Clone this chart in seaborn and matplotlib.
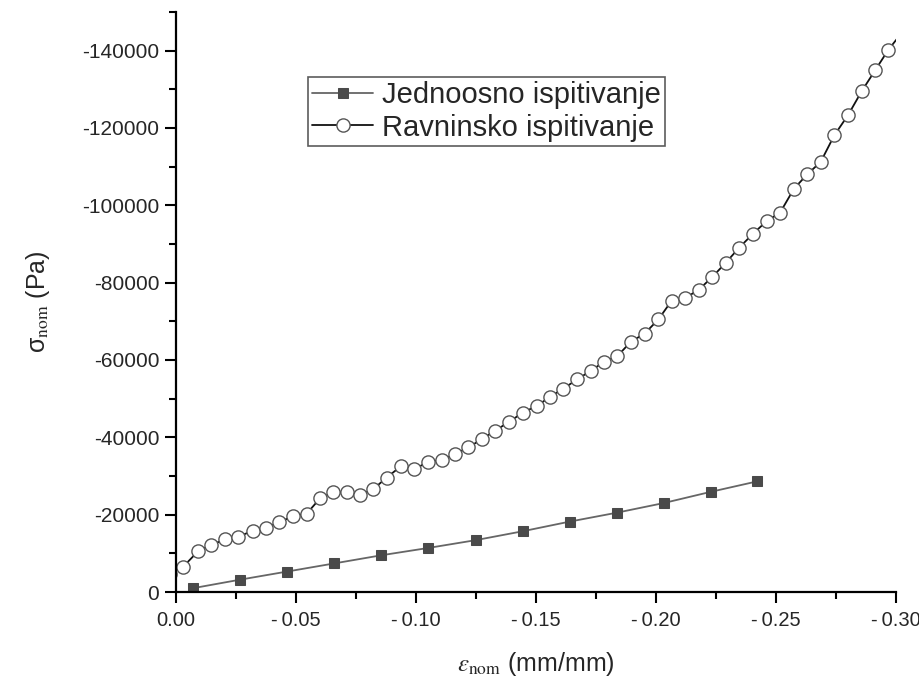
import numpy as np
import pandas as pd
import seaborn as sns
import matplotlib.pyplot as plt
from matplotlib.ticker import MultipleLocator, FuncFormatter

# nominal strain / stress (compression -> negative)
eps_jedno = [-0.0072, -0.0268, -0.0464, -0.0660, -0.0856, -0.1052, -0.1248,
             -0.1444, -0.1640, -0.1836, -0.2032, -0.2228, -0.2421]
sig_jedno = [-1000, -3200, -5300, -7400, -9500, -11400, -13400,
             -15700, -18200, -20500, -23000, -25900, -28600]

eps_ravn = [0.0026, -0.0030, -0.0093, -0.0146, -0.0204, -0.0260, -0.0320, -0.0375,
            -0.0430, -0.0486, -0.0545, -0.0600, -0.0655, -0.0711, -0.0767,
            -0.0822, -0.0878, -0.0938, -0.0993, -0.1049, -0.1107, -0.1163,
            -0.1218, -0.1274, -0.1329, -0.1388, -0.1445, -0.1503, -0.1558,
            -0.1614, -0.1672, -0.1728, -0.1783, -0.1839, -0.1895, -0.1953,
            -0.2010, -0.2065, -0.2121, -0.2179, -0.2235, -0.2290, -0.2346,
            -0.2405, -0.2461, -0.2517, -0.2575, -0.2630, -0.2686, -0.2743,
            -0.2801, -0.2857, -0.2913, -0.2968, -0.3024]
sig_ravn = [-4600, -6540, -10600, -12150, -13600, -14300, -15850, -16600,
            -18000, -19600, -20300, -24200, -25760, -25760, -25060,
            -26600, -29600, -32560, -31700, -33670, -34100, -35650,
            -37400, -39500, -41700, -44000, -46400, -48100, -50450,
            -52600, -55000, -57200, -59500, -61000, -64700, -66850,
            -70500, -75300, -76000, -78200, -81500, -85100, -89000,
            -92700, -95900, -98100, -104300, -108000, -111200, -118100,
            -123400, -129500, -134900, -140200, -144600]

label_jedno = "Jednoosno ispitivanje"
label_ravn = "Ravninsko ispitivanje"

df_j = pd.DataFrame({"eps": eps_jedno, "sig": sig_jedno})
df_r = pd.DataFrame({"eps": eps_ravn, "sig": sig_ravn})

sns.set_theme(style="ticks")
plt.rcParams["font.family"] = ["Liberation Sans", "DejaVu Sans"]
plt.rcParams["mathtext.fontset"] = "stix"

fig = plt.figure(figsize=(9.2, 6.84), dpi=100)
ax = fig.add_axes([0.1913, 0.1345, 0.7826, 0.848])

sns.lineplot(data=df_j, x="eps", y="sig", ax=ax, sort=False, color="#666666",
             lw=1.3, marker="s", markersize=7.5, markerfacecolor="#4a4a4a",
             markeredgecolor="#4a4a4a", label=label_jedno)
# last point only carries the line out to the frame
sns.lineplot(data=df_r, x="eps", y="sig", ax=ax, sort=False, color="#111111",
             lw=1.3, marker="o", markersize=9.5, markerfacecolor="white",
             markeredgecolor="#555555", markeredgewidth=1.0,
             markevery=list(range(len(eps_ravn) - 1)), label=label_ravn)

# axes run toward negative values
ax.set_xlim(0, -0.30)
ax.set_ylim(0, -150000)

ax.xaxis.set_major_locator(MultipleLocator(0.05))
ax.xaxis.set_minor_locator(MultipleLocator(0.025))
ax.yaxis.set_major_locator(MultipleLocator(20000))
ax.yaxis.set_minor_locator(MultipleLocator(10000))
ax.xaxis.set_major_formatter(FuncFormatter(
    lambda v, p: "0.00" if abs(v) < 1e-9 else "-\u2009%.2f" % abs(v)))
ax.yaxis.set_major_formatter(FuncFormatter(
    lambda v, p: "0" if abs(v) < 1e-9 else "%d" % round(v)))

ax.tick_params(which="major", direction="out", length=8, width=1.5,
               color="black")
ax.tick_params(which="minor", direction="out", length=5, width=1.5,
               color="black")
ax.tick_params(axis="y", which="major", pad=4, labelsize=15)
ax.tick_params(axis="x", which="major", pad=6, labelsize=14.5)

for s in ["top", "right"]:
    ax.spines[s].set_visible(False)
for s in ["left", "bottom"]:
    ax.spines[s].set_linewidth(1.6)
    ax.spines[s].set_color("black")

ax.set_xlabel(r"$\varepsilon_{\rm nom}$ (mm/mm)", fontsize=18, labelpad=14)
ax.set_ylabel("\u03c3$_{\\rm nom}$ (Pa)", fontsize=18, labelpad=22)

leg = ax.legend(loc="upper left", bbox_to_anchor=(0.183, 0.888),
                borderaxespad=0, fontsize=21, handlelength=2.1,
                handletextpad=0.3, labelspacing=0.15, borderpad=0.15,
                frameon=True, fancybox=False)
leg.get_frame().set_edgecolor("#333333")
leg.get_frame().set_linewidth(1.2)

fig.savefig("out.png", dpi=100)
